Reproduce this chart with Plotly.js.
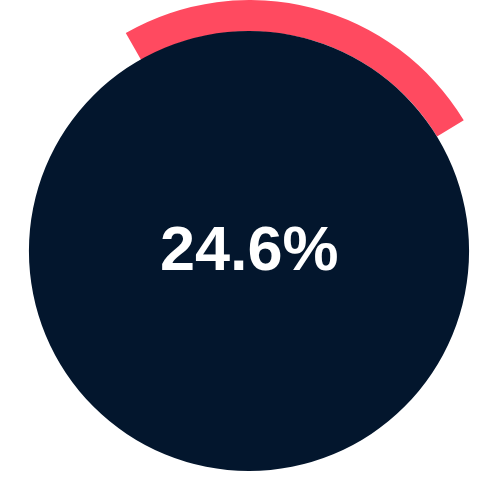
<!DOCTYPE html>
<html>
<head>
<meta charset="utf-8">
<script src="https://cdn.plot.ly/plotly-3.0.1.min.js"></script>
<style>
  html, body { margin: 0; padding: 0; background: #ffffff; }
  #plot { width: 500px; height: 500px; }
</style>
</head>
<body>
<div id="plot"></div>
<script>
// share shown on the ring and in the centre label
var shareLabels = ['share', 'rest']
var shareValue = 24.6
var shareValues = [shareValue, 100 - shareValue]
var coreValues = [100]

var ringColors = ['#ff4a60', 'rgba(0,0,0,0)']
var coreColor = '#03162d'

var ring = {
  type: 'pie',
  labels: shareLabels,
  values: shareValues,
  sort: false,
  direction: 'clockwise',
  rotation: -29.8,
  hole: 0.875,
  textinfo: 'none',
  hoverinfo: 'skip',
  marker: { colors: ringColors, line: { width: 0 } },
  domain: { x: [0, 1], y: [0, 1] },
  showlegend: false
}

var core = {
  type: 'pie',
  labels: ['core'],
  values: coreValues,
  textinfo: 'none',
  hoverinfo: 'skip',
  marker: { colors: [coreColor], line: { width: 0 } },
  domain: { x: [0.058, 0.938], y: [0.058, 0.938] },
  showlegend: false
}

var layout = {
  width: 500,
  height: 500,
  margin: { l: 0, r: 0, t: 0, b: 0 },
  paper_bgcolor: '#ffffff',
  showlegend: false,
  annotations: [{
    text: '<b>' + shareValue.toFixed(1) + '%</b>',
    x: 0.498, y: 0.505,
    xref: 'paper', yref: 'paper',
    showarrow: false,
    font: { family: 'Liberation Sans, Arial, sans-serif', size: 63, color: '#ffffff' }
  }]
}

Plotly.newPlot('plot', [ring, core], layout, { staticPlot: true })
</script>
</body>
</html>
